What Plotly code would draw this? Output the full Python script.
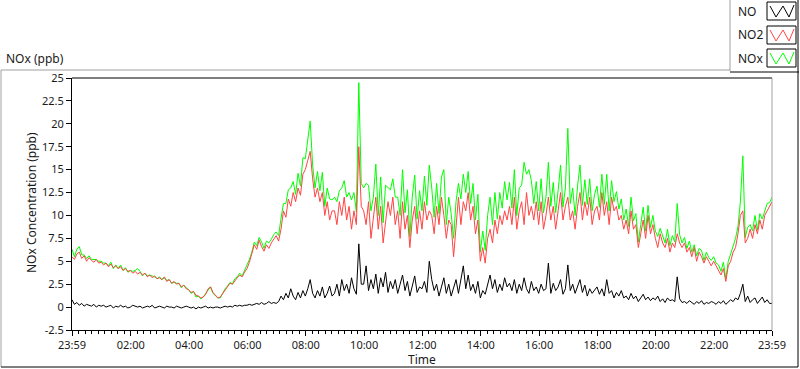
import plotly.graph_objects as go

# ---- data: 5-minute readings, first sample at 23:59 of the previous day ----
step_min = 5
no2 = [
    5.5,5.2,5.8,6.0,5.3,5.6,5.0,5.4,5.1,4.9,5.2,4.8,
    4.9,4.6,4.8,4.4,4.7,4.3,4.5,4.2,4.4,4.0,4.2,3.9,
    4.0,3.7,3.9,3.6,3.8,3.5,3.7,3.3,3.5,3.2,3.4,3.1,
    3.2,3.0,3.3,2.8,3.0,2.6,2.8,2.5,2.6,2.2,2.4,2.0,
    1.9,1.6,1.7,1.3,1.2,1.0,1.1,1.4,2.0,2.2,1.6,1.3,
    1.0,1.1,1.5,1.9,2.3,2.6,2.5,2.9,3.2,3.5,3.3,3.8,
    4.2,4.9,5.8,6.8,6.3,7.3,6.6,6.1,6.8,6.4,7.0,7.4,
    7.8,7.2,8.5,10.5,9.8,11.8,11.0,12.5,11.5,13.0,12.2,14.5,
    15.0,16.0,17.0,14.0,12.0,13.0,11.5,12.5,10.0,11.5,9.5,10.5,
    10.5,9.0,11.5,10.0,12.0,9.5,11.0,8.5,10.5,9.0,17.5,11.0,
    10.5,9.0,11.5,7.5,10.0,12.0,8.5,11.0,7.0,9.5,11.5,10.0,
    12.0,9.0,10.5,7.5,11.5,8.5,10.0,6.5,9.5,11.0,8.0,10.5,
    8.5,11.5,9.5,10.5,10.0,8.0,11.0,9.0,12.0,10.0,7.5,9.5,
    9.0,5.5,8.5,12.0,9.0,11.5,10.5,12.5,9.5,11.0,8.0,9.5,
    5.0,6.5,4.8,7.5,8.5,7.0,9.5,8.0,10.0,9.0,10.5,9.5,
    11.0,9.0,12.0,8.5,10.5,11.5,9.0,12.5,10.0,11.0,9.5,11.5,
    9.0,11.5,8.5,10.0,12.0,9.5,11.0,8.5,10.5,12.5,9.5,11.0,
    12.0,9.5,10.5,8.5,11.0,12.5,9.5,11.5,10.0,12.0,9.0,10.5,
    11.0,9.5,12.5,10.0,11.5,9.0,12.0,10.5,11.0,9.5,10.0,8.5,
    9.5,8.0,10.5,8.5,9.0,6.5,8.0,9.5,7.5,10.0,8.0,9.0,
    7.5,6.5,8.0,7.0,6.5,7.5,6.0,7.0,6.5,8.0,7.0,6.5,
    7.0,6.0,6.5,5.5,6.5,5.0,6.0,5.5,4.8,5.5,5.0,4.5,
    5.0,4.5,4.0,3.5,4.2,2.8,4.5,5.0,6.0,6.5,8.0,10.0,
    10.5,7.0,7.5,8.5,7.5,9.0,8.0,9.5,8.5,10.0,10.5,11.0,
    11.5]
no = [
    0.8,0.3,0.5,0.2,0.4,0.1,0.3,0.2,0.1,0.3,0.0,0.2,
    0.1,0.2,0.0,0.1,0.2,-0.1,0.1,0.0,0.2,0.0,0.1,-0.1,
    0.0,0.2,0.1,0.0,0.1,-0.1,0.0,0.1,0.0,0.2,-0.1,0.0,
    0.1,0.0,-0.1,0.1,0.0,0.0,-0.1,0.1,0.0,-0.1,0.0,0.1,
    0.0,-0.1,0.0,-0.2,0.0,-0.1,0.0,0.1,-0.1,0.0,-0.1,0.0,
    0.0,-0.1,0.0,0.1,0.0,0.1,0.0,0.2,0.1,0.2,0.1,0.2,
    0.2,0.3,0.2,0.3,0.4,0.3,0.5,0.3,0.4,0.6,0.4,0.5,
    0.4,0.6,1.2,0.8,1.5,1.0,2.0,1.2,0.8,1.6,1.0,1.8,
    1.2,2.0,3.0,1.5,1.0,1.8,1.2,2.2,1.0,1.5,2.3,1.2,
    1.5,2.5,1.2,3.0,1.8,2.5,1.5,3.2,2.0,1.4,6.9,2.5,
    2.5,4.5,1.8,3.0,2.0,3.6,1.5,3.2,2.2,3.8,1.6,2.8,
    2.0,3.0,1.5,2.5,3.5,1.8,2.8,1.2,2.5,3.4,1.6,2.2,
    2.0,2.8,1.6,5.0,3.0,1.8,2.5,1.2,2.2,3.2,1.5,2.5,
    1.2,2.0,3.0,1.5,2.8,4.5,2.0,3.5,1.8,2.5,1.5,2.8,
    1.0,1.8,1.4,2.5,3.5,2.0,3.0,1.6,2.5,1.8,3.2,2.2,
    2.6,1.8,3.0,1.5,2.5,1.8,3.2,2.0,1.5,2.8,1.8,2.2,
    1.5,2.5,1.8,2.0,4.8,1.5,2.6,1.8,2.2,3.0,1.4,2.0,
    4.6,1.8,2.5,1.5,2.2,3.0,1.6,2.4,1.2,2.0,1.5,1.8,
    2.2,1.4,2.0,1.2,3.0,1.5,1.8,1.0,1.6,1.2,1.8,1.0,
    1.2,0.8,1.5,0.9,1.2,0.6,1.0,1.4,0.8,1.1,0.7,1.0,
    0.8,1.2,0.6,0.9,0.5,1.0,0.7,0.8,0.6,3.3,0.9,0.5,
    0.6,0.4,0.7,0.5,0.3,0.6,0.4,0.7,0.3,0.5,0.4,0.6,
    0.5,0.3,0.6,0.4,0.7,0.3,0.5,0.8,0.6,1.0,0.8,1.5,
    2.5,0.6,1.2,0.5,0.8,1.0,0.4,0.7,1.1,0.5,0.8,0.4,
    0.4]
nox = [
    6.3,5.5,6.3,6.6,5.7,5.7,5.3,5.6,5.2,5.2,5.2,5.0,
    5.0,4.8,4.8,4.5,4.9,4.2,4.6,4.2,4.6,4.0,4.3,3.8,
    4.0,3.9,4.0,4.2,3.9,3.4,3.7,3.4,3.5,3.4,3.3,3.1,
    3.3,3.0,3.2,2.9,3.0,2.6,2.7,2.6,2.6,2.1,2.4,2.1,
    1.9,1.5,1.7,1.1,1.2,0.9,1.1,1.5,1.9,2.2,1.5,1.3,
    1.0,1.0,1.5,2.0,2.3,2.7,2.5,3.1,3.3,3.7,3.4,4.0,
    4.4,5.2,6.0,7.1,6.7,7.6,7.1,6.4,7.2,7.0,7.4,7.9,
    8.2,7.8,9.7,11.3,11.3,12.8,13.0,13.7,12.3,14.6,13.2,16.3,
    16.2,18.0,20.3,15.5,13.0,14.8,12.7,14.7,11.0,13.0,11.8,11.7,
    12.0,11.5,12.7,13.0,13.8,12.0,12.5,11.7,12.5,10.4,24.5,13.5,
    13.0,13.5,13.3,10.5,12.0,15.6,10.0,14.2,9.2,13.3,13.1,12.8,
    14.0,12.0,12.0,10.0,15.0,10.3,12.8,7.7,12.0,14.4,9.6,12.7,
    10.5,14.3,11.1,15.5,13.0,9.8,13.5,10.2,14.2,15.0,9.0,12.0,
    10.2,7.5,11.5,13.5,11.8,14.5,12.5,14.8,11.3,13.5,9.5,12.3,
    6.0,8.3,6.2,10.0,12.0,9.0,12.5,9.6,12.5,10.8,13.7,11.7,
    13.6,10.8,15.0,10.0,13.0,13.3,15.8,14.5,15.0,13.8,11.3,13.7,
    10.5,14.0,10.3,12.0,15.8,11.0,13.6,10.3,12.7,15.5,10.9,13.0,
    19.5,11.3,13.0,10.0,13.2,15.5,11.1,13.9,11.2,14.0,10.5,12.3,
    13.2,10.9,14.5,11.2,14.5,10.5,13.8,11.5,12.6,10.7,11.8,9.5,
    10.7,8.8,12.0,9.4,10.2,7.1,9.0,10.9,8.3,11.1,8.7,10.0,
    8.3,7.7,8.6,7.9,7.0,8.5,6.7,7.8,7.1,11.3,7.9,7.0,
    7.6,6.4,7.2,6.0,6.8,5.6,6.4,6.2,5.1,6.0,5.4,5.1,
    5.5,4.8,4.6,3.9,4.9,3.1,5.0,5.8,6.6,7.5,8.8,11.5,
    16.5,7.6,8.7,9.0,8.3,10.0,8.4,10.2,9.6,10.5,11.3,11.4,
    12.0]

x_tick_vals = [-1, 120, 240, 360, 480, 600, 720, 840, 960, 1080, 1200, 1320, 1439]
x_tick_text = ["23:59", "02:00", "04:00", "06:00", "08:00", "10:00", "12:00",
               "14:00", "16:00", "18:00", "20:00", "22:00", "23:59"]
y_tick_vals = [-2.5, 0, 2.5, 5, 7.5, 10, 12.5, 15, 17.5, 20, 22.5, 25]
y_tick_text = ["-2.5", "0", "2.5", "5", "7.5", "10", "12.5", "15", "17.5", "20", "22.5", "25"]
series_names = ["NO", "NO2", "NOx"]
series_colors = ["#000000", "#ff4444", "#00ff00"]

minutes = [-1 + i * step_min for i in range(len(no2))]

FONT = "Noto Sans"
W, H = 800, 369
PL, PR, PT, PB = 72, 772, 78, 330

def px(x):
    return (x - PL) / (PR - PL)

def py(y):
    return (PB - y) / (PB - PT)

fig = go.Figure()
fig.add_trace(go.Scatter(x=minutes, y=nox, mode="lines", name="NOx",
                         line=dict(color=series_colors[2], width=1), showlegend=False))
fig.add_trace(go.Scatter(x=minutes, y=no2, mode="lines", name="NO2",
                         line=dict(color=series_colors[1], width=1), showlegend=False))
fig.add_trace(go.Scatter(x=minutes, y=no, mode="lines", name="NO",
                         line=dict(color=series_colors[0], width=1), showlegend=False))

shapes = []
def line(x0, y0, x1, y1, color):
    shapes.append(dict(type="line", xref="paper", yref="paper",
                       x0=px(x0), y0=py(y0), x1=px(x1), y1=py(y1),
                       line=dict(color=color, width=1), layer="above"))

GRAY = "#a0a0a0"
line(PL, PT, PR, PT, "#000000")
line(PR, PT, PR, PB, GRAY)
line(1, 70, 1, 367, GRAY)
line(1, 70, 730, 70, GRAY)
line(730, 0, 730, 71, GRAY)
line(730, 72, 799, 72, "#000000")
line(798, 0, 798, 367, "#000000")
line(1, 367, 798, 367, "#000000")

annotations = []
box_tops = [2, 26, 49]
box_h = 18
for name, color, top in zip(series_names, series_colors, box_tops):
    bot = top + box_h
    x0, x1 = 767, 796
    shapes.append(dict(type="rect", xref="paper", yref="paper",
                       x0=px(x0), x1=px(x1), y0=py(top), y1=py(bot),
                       line=dict(color="#000000", width=1), fillcolor="white"))
    pts = [(x0 + 3, top + 4), (x0 + 9, bot - 3), (x0 + 16, top + 4),
           (x0 + 22, bot - 3), (x1 - 2, top + 3)]
    path = "M " + " L ".join(f"{px(a)},{py(b)}" for a, b in pts)
    shapes.append(dict(type="path", xref="paper", yref="paper", path=path,
                       line=dict(color=color, width=1)))
    annotations.append(dict(xref="paper", yref="paper", x=px(736), y=py((top + bot) / 2),
                            text=name, showarrow=False, xanchor="left", yanchor="middle",
                            font=dict(family=FONT, size=12, color="#1a1a1a")))

annotations.append(dict(xref="paper", yref="paper", x=px(4), y=py(58), text="NOx (ppb)",
                        showarrow=False, xanchor="left", yanchor="middle",
                        font=dict(family=FONT, size=12, color="#1a1a1a")))
annotations.append(dict(xref="paper", yref="paper", x=px(31), y=py(203),
                        text="NOx Concentration (ppb)", textangle=-90, showarrow=False,
                        xanchor="center", yanchor="middle",
                        font=dict(family=FONT, size=12, color="#1a1a1a")))
annotations.append(dict(xref="paper", yref="paper", x=px(422), y=py(359), text="Time",
                        showarrow=False, xanchor="center", yanchor="middle",
                        font=dict(family=FONT, size=12, color="#1a1a1a")))

fig.update_layout(
    width=W, height=H,
    margin=dict(l=PL, r=W - PR, t=PT, b=H - PB),
    paper_bgcolor="white", plot_bgcolor="white",
    shapes=shapes, annotations=annotations,
    font=dict(family=FONT, size=11, color="#1a1a1a"),
    xaxis=dict(range=[-1, 1439], tickvals=x_tick_vals, ticktext=x_tick_text,
               showgrid=False, zeroline=False, showline=True, linecolor="#000000",
               linewidth=1, ticks="outside", ticklen=5, tickcolor="#000000",
               tickfont=dict(family=FONT, size=11, color="#1a1a1a"),
               minor=dict(ticks="outside", ticklen=3, tickcolor="#000000",
                          tick0=0, dtick=120 / 9, showgrid=False)),
    yaxis=dict(range=[-2.5, 25], tickvals=y_tick_vals, ticktext=y_tick_text,
               showgrid=False, zeroline=False, showline=True, linecolor="#000000",
               linewidth=1, ticks="outside", ticklen=5, tickcolor="#000000",
               tickfont=dict(family=FONT, size=11, color="#1a1a1a")),
)

fig.write_html("out.html", config={"displayModeBar": False},
               post_script="document.body.style.margin='0';document.body.style.overflow='hidden';")
